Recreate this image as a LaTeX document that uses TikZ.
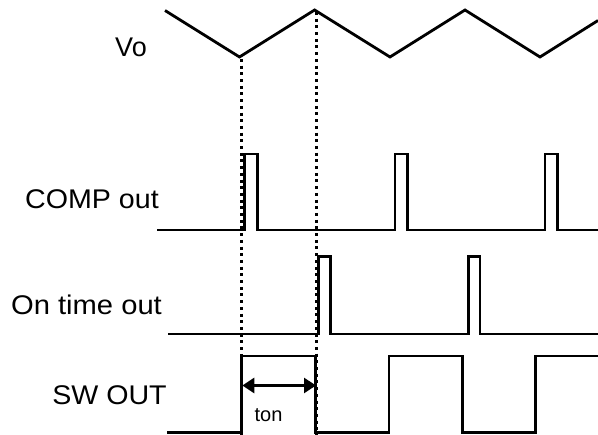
\documentclass[tikz,border=0pt]{standalone}
\usepackage{fontspec}
\setmainfont{Liberation Sans}
\usetikzlibrary{arrows.meta}
\begin{document}
\begin{tikzpicture}[x=1pt,y=-1pt,
  wave/.style={line width=2.8pt, line join=miter, line cap=butt},
  guide/.style={line width=3pt, dash pattern=on 3pt off 3.7pt},
  lbl/.style={font=\fontsize{27}{30}\selectfont, inner sep=0pt, anchor=base},
  meas/.style={line width=2.8pt, {Triangle[length=12pt,width=15pt]}-{Triangle[length=12pt,width=15pt]}}]
\useasboundingbox (0,0) rectangle (598,435);
% labels
\node[lbl] (lvo) at (131,56.5) {Vo};
\node[lbl, xscale=1.06] (lcomp) at (92,209) {COMP out};
\node[lbl, xscale=1.08] (lont) at (86.5,315) {On time out};
\node[lbl, xscale=1.06] (lsw) at (109.5,405) {SW OUT};
% Vo triangle wave
\coordinate (vmin1) at (239.5,57);
\coordinate (vmax1) at (314.6,10);
\draw[wave] (165,10.5) -- (vmin1) -- (vmax1) -- (390,57) -- (465,10) -- (540,57) -- (598,20.5);
% guides
\coordinate (g1b) at (241.7,435);
\coordinate (g2b) at (316,435);
\draw[guide] (241.7,59) -- (g1b);
\draw[guide] (316,12) -- (g2b);
% COMP out
\draw[wave] (157,230) -- (244.7,230) -- (244.7,154) -- (257.3,154) -- (257.3,230)
  -- (395,230) -- (395,154) -- (407.7,154) -- (407.7,230)
  -- (545,230) -- (545,154) -- (557.3,154) -- (557.3,230) -- (598,230);
% On time out
\draw[wave] (168,334) -- (318.3,334) -- (318.3,256.7) -- (330.3,256.7) -- (330.3,334)
  -- (468.3,334) -- (468.3,256.7) -- (480,256.7) -- (480,334) -- (598,334);
% SW OUT
\draw[wave] (167,432.7) -- (241.7,432.7) -- (241.7,356) -- (315.7,356) -- (315.7,432.7)
  -- (389,432.7) -- (389,356) -- (462.3,356) -- (462.3,432.7)
  -- (535.7,432.7) -- (535.7,356) -- (598,356);
% ton
\coordinate (a1) at (242.3,385.5);
\coordinate (a2) at (316,385.5);
\draw[meas] (a1) -- (a2);
\node[font=\fontsize{20}{22}\selectfont, inner sep=0pt, anchor=base] (ton) at (268.5,421.7) {ton};
\end{tikzpicture}
\end{document}
